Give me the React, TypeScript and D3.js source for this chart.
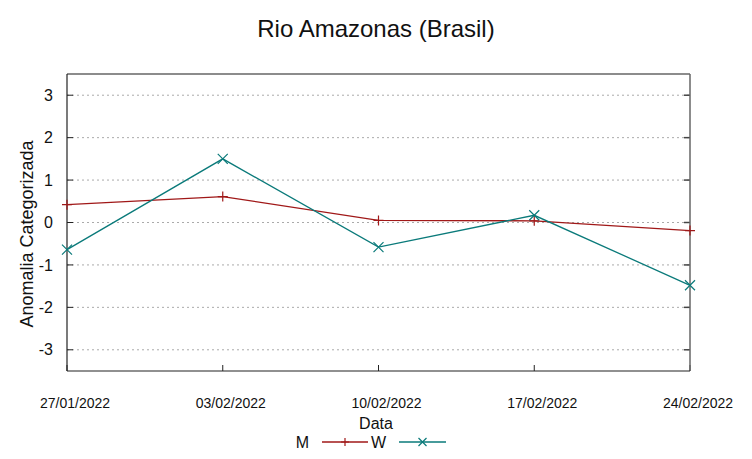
import React, { useEffect, useRef } from "react";
import * as d3 from "d3";

const dates = ["27/01/2022", "03/02/2022", "10/02/2022", "17/02/2022", "24/02/2022"];
const valuesM = [0.42, 0.61, 0.05, 0.04, -0.19];
const valuesW = [-0.64, 1.5, -0.58, 0.17, -1.48];
const yTicks = [-3, -2, -1, 0, 1, 2, 3];

const width = 752;
const height = 459;
const font = "'Liberation Sans', Arial, sans-serif";

const App: React.FC = () => {
  const svgRef = useRef<SVGSVGElement>(null);

  useEffect(() => {
    if (!svgRef.current) return;
    const svg = d3.select(svgRef.current);
    svg.selectAll("*").remove();

    const margin = { top: 74, right: 62, bottom: 88, left: 67 };
    const innerWidth = width - margin.left - margin.right;
    const innerHeight = height - margin.top - margin.bottom;

    const parse = d3.timeParse("%d/%m/%Y");
    const parsed = dates.map(d => parse(d) as Date);

    const x = d3.scaleTime()
      .domain(d3.extent(parsed) as [Date, Date])
      .range([0, innerWidth]);

    const y = d3.scaleLinear()
      .domain([-3.5, 3.5])
      .range([innerHeight, 0]);

    const g = svg.append("g")
      .attr("transform", `translate(${margin.left}, ${margin.top})`);

    // title
    svg.append("text")
      .attr("x", width / 2)
      .attr("y", 37)
      .attr("text-anchor", "middle")
      .style("font-family", font)
      .style("font-size", "24px")
      .attr("fill", "#111")
      .text("Rio Amazonas (Brasil)");

    // grid
    g.append("g")
      .selectAll("line")
      .data(yTicks)
      .join("line")
      .attr("x1", 0)
      .attr("x2", innerWidth)
      .attr("y1", d => y(d))
      .attr("y2", d => y(d))
      .attr("stroke", "#aaa")
      .attr("stroke-width", 1)
      .attr("stroke-dasharray", "2,3");

    // tick marks left and right
    g.append("g")
      .selectAll("line")
      .data(yTicks)
      .join("line")
      .attr("x1", 0)
      .attr("x2", 6)
      .attr("y1", d => y(d))
      .attr("y2", d => y(d))
      .attr("stroke", "#222");
    g.append("g")
      .selectAll("line")
      .data(yTicks)
      .join("line")
      .attr("x1", innerWidth - 6)
      .attr("x2", innerWidth)
      .attr("y1", d => y(d))
      .attr("y2", d => y(d))
      .attr("stroke", "#444")
      .attr("stroke-width", 1.5);

    // x tick marks
    g.append("g")
      .selectAll("line")
      .data(parsed)
      .join("line")
      .attr("x1", d => x(d))
      .attr("x2", d => x(d))
      .attr("y1", innerHeight)
      .attr("y2", innerHeight - 6)
      .attr("stroke", "#222");

    // y tick labels
    g.append("g")
      .selectAll("text")
      .data(yTicks)
      .join("text")
      .attr("x", -14)
      .attr("y", d => y(d))
      .attr("dy", "0.35em")
      .attr("text-anchor", "end")
      .style("font-family", font)
      .style("font-size", "16px")
      .attr("fill", "#111")
      .text(d => d);

    // x tick labels
    g.append("g")
      .selectAll("text")
      .data(parsed)
      .join("text")
      .attr("x", d => x(d) + 8)
      .attr("y", innerHeight + 37)
      .attr("text-anchor", "middle")
      .style("font-family", font)
      .style("font-size", "14px")
      .attr("fill", "#111")
      .text((d, i) => dates[i]);

    // border
    g.append("line").attr("x1", 0).attr("x2", innerWidth).attr("y1", 0).attr("y2", 0)
      .attr("stroke", "#666").attr("stroke-width", 1.5);
    g.append("line").attr("x1", innerWidth).attr("x2", innerWidth).attr("y1", 0).attr("y2", innerHeight)
      .attr("stroke", "#666").attr("stroke-width", 1.5);
    g.append("line").attr("x1", 0).attr("x2", 0).attr("y1", 0).attr("y2", innerHeight)
      .attr("stroke", "#222").attr("stroke-width", 1.2);
    g.append("line").attr("x1", 0).attr("x2", innerWidth).attr("y1", innerHeight).attr("y2", innerHeight)
      .attr("stroke", "#222").attr("stroke-width", 1.2);

    const series = [
      { name: "M", values: valuesM, color: "#a01818", marker: "plus" },
      { name: "W", values: valuesW, color: "#0a7a7a", marker: "cross" },
    ];

    const line = d3.line<number>()
      .x((d, i) => x(parsed[i]))
      .y(d => y(d));

    const markerPath = (kind: string, cx: number, cy: number, s = 5) =>
      kind === "plus"
        ? `M${cx - s},${cy}H${cx + s}M${cx},${cy - s}V${cy + s}`
        : `M${cx - s},${cy - s}L${cx + s},${cy + s}M${cx - s},${cy + s}L${cx + s},${cy - s}`;

    series.forEach(s => {
      g.append("path")
        .datum(s.values)
        .attr("fill", "none")
        .attr("stroke", s.color)
        .attr("stroke-width", 1.3)
        .attr("d", line);

      g.append("path")
        .attr("fill", "none")
        .attr("stroke", s.color)
        .attr("stroke-width", 1.2)
        .attr("d", s.values.map((v, i) => markerPath(s.marker, x(parsed[i]), y(v))).join(""));
    });

    // x label
    svg.append("text")
      .attr("x", width / 2)
      .attr("y", 429)
      .attr("text-anchor", "middle")
      .style("font-family", font)
      .style("font-size", "16px")
      .attr("fill", "#111")
      .text("Data");

    // y label
    svg.append("text")
      .attr("transform", `translate(33, 234) rotate(-90)`)
      .attr("text-anchor", "middle")
      .style("font-family", font)
      .style("font-size", "18px")
      .attr("fill", "#111")
      .text("Anomalia Categorizada");

    // legend
    const legendY = 442;
    const legend = svg.append("g");
    const entries = [
      { ...series[0], textX: 309, x1: 322, x2: 368 },
      { ...series[1], textX: 386, x1: 399, x2: 446 },
    ];
    entries.forEach(e => {
      legend.append("text")
        .attr("x", e.textX)
        .attr("y", legendY)
        .attr("dy", "0.35em")
        .attr("text-anchor", "end")
        .style("font-family", font)
        .style("font-size", "16px")
        .attr("fill", "#111")
        .text(e.name);
      legend.append("line")
        .attr("x1", e.x1).attr("x2", e.x2)
        .attr("y1", legendY).attr("y2", legendY)
        .attr("stroke", e.color).attr("stroke-width", 1.3);
      legend.append("path")
        .attr("fill", "none")
        .attr("stroke", e.color)
        .attr("stroke-width", 1.2)
        .attr("d", markerPath(e.marker, (e.x1 + e.x2) / 2, legendY, 4));
    });
  }, []);

  return (
    <svg
      ref={svgRef}
      width={width}
      height={height}
      style={{ position: "absolute", left: 0, top: 0, background: "#fff" }}
    ></svg>
  );
};

export default App;
